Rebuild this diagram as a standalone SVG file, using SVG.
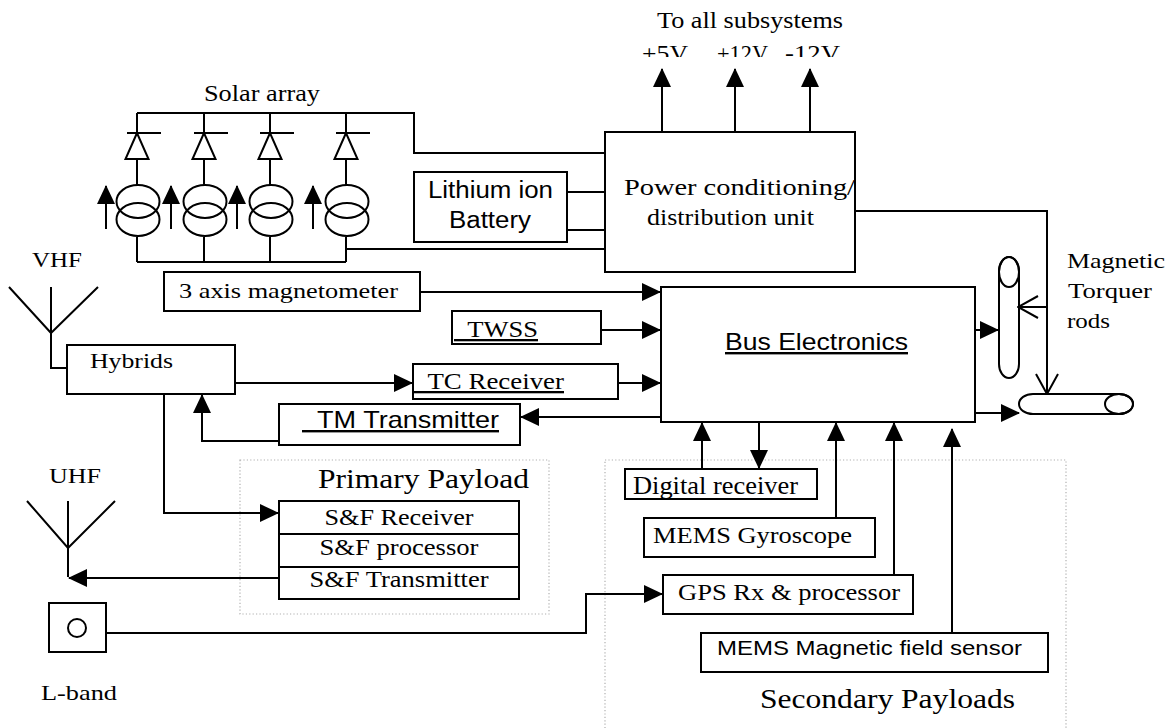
<svg xmlns="http://www.w3.org/2000/svg" width="1176" height="728" viewBox="0 0 1176 728">
<style>
.b{fill:#fff;stroke:#000;stroke-width:2}
.ln{fill:none;stroke:#000;stroke-width:2}
.dot{fill:none;stroke:#b0b0b0;stroke-width:1.2;stroke-dasharray:1.2 2.2}
.t{font-family:"Liberation Serif","Times New Roman",serif;fill:#000}
.s{font-family:"Liberation Sans",Arial,sans-serif;fill:#000}
.u{text-decoration:underline}
</style>
<defs>
<marker id="ar" viewBox="0 0 19 18" refX="18" refY="9" markerWidth="19" markerHeight="18" markerUnits="userSpaceOnUse" orient="auto">
<path d="M0,0 L19,9 L0,18 z" fill="#000"/>
</marker>
<marker id="op" viewBox="0 0 22 24" refX="21" refY="12" markerWidth="22" markerHeight="24" markerUnits="userSpaceOnUse" orient="auto">
<path d="M1,1 L21,12 L1,23" fill="none" stroke="#000" stroke-width="2"/>
</marker>
<clipPath id="vclip"><rect x="600" y="0" width="300" height="57"/></clipPath>
</defs>
<rect width="1176" height="728" fill="#fff"/>

<g id="groups">
<rect id="primary-payload-frame" class="dot" x="240" y="460" width="309" height="154"/>
<rect id="secondary-payload-frame" class="dot" x="605" y="460" width="461" height="280"/>
<text class="t" x="318" y="488" font-size="27" textLength="211" lengthAdjust="spacingAndGlyphs">Primary Payload</text>
<text class="t" x="760" y="708" font-size="28" textLength="255" lengthAdjust="spacingAndGlyphs">Secondary Payloads</text>
</g>

<g id="connectors">
<path class="ln" d="M137,113 H414 V153 H605"/>
<path class="ln" d="M137,262 H346"/>
<path class="ln" d="M346,249 H605"/>
<path class="ln" d="M567,192 H605 M567,230 H605"/>
<path class="ln" d="M662,132 V69" marker-end="url(#ar)"/>
<path class="ln" d="M735,132 V69" marker-end="url(#ar)"/>
<path class="ln" d="M810,132 V69" marker-end="url(#ar)"/>
<path class="ln" d="M855,211 H1047 V394" marker-end="url(#op)"/>
<path class="ln" d="M1047,307 H1018" marker-end="url(#op)"/>
<path class="ln" d="M420,292 H660" marker-end="url(#ar)"/>
<path class="ln" d="M601,330 H660" marker-end="url(#ar)"/>
<path class="ln" d="M235,383 H412" marker-end="url(#ar)"/>
<path class="ln" d="M618,383 H660" marker-end="url(#ar)"/>
<path class="ln" d="M661,417 H521" marker-end="url(#ar)"/>
<path class="ln" d="M279,441 H202 V395" marker-end="url(#ar)"/>
<path class="ln" d="M164,394 V513 H278" marker-end="url(#ar)"/>
<path class="ln" d="M9,287 L51,333 L98,287 M51,287 V368 H67"/>
<path class="ln" d="M27,501 L68,548 L115,501 M68,501 V577"/>
<path class="ln" d="M279,578 H69" marker-end="url(#ar)"/>
<path class="ln" d="M106,633 H586 V594 H662" marker-end="url(#ar)"/>
<path class="ln" d="M975,330 H998" marker-end="url(#ar)"/>
<path fill="none" stroke="#000" stroke-width="3" d="M973,363 V413"/>
<path class="ln" d="M975,413 H1019" marker-end="url(#ar)"/>
<path class="ln" d="M702,469 V423" marker-end="url(#ar)"/>
<path class="ln" d="M759,422 V468" marker-end="url(#ar)"/>
<path class="ln" d="M836,518 V423" marker-end="url(#ar)"/>
<path class="ln" d="M894,575 V423" marker-end="url(#ar)"/>
<path class="ln" d="M952,637 V429" marker-end="url(#ar)"/>
</g>

<g id="solar-array">
<text class="t" x="204" y="101" font-size="23" textLength="116" lengthAdjust="spacingAndGlyphs">Solar array</text>
<g id="cell1">
<path class="ln" d="M137,113 V133 M127,133 H161 M137,159 V185 M137,237 V262"/>
<path class="b" d="M137,133 L125.5,159 L148.5,159 z"/>
<ellipse class="ln" cx="138" cy="201.5" rx="21.5" ry="16.5"/>
<ellipse class="ln" cx="138" cy="219.5" rx="21.5" ry="16.5"/>
<path class="ln" d="M106,229 V186" marker-end="url(#ar)"/>
</g>
<g id="cell2">
<path class="ln" d="M204,113 V133 M194,133 H228 M204,159 V185 M204,237 V262"/>
<path class="b" d="M204,133 L192.5,159 L215.5,159 z"/>
<ellipse class="ln" cx="205" cy="201.5" rx="21.5" ry="16.5"/>
<ellipse class="ln" cx="205" cy="219.5" rx="21.5" ry="16.5"/>
<path class="ln" d="M171,229 V186" marker-end="url(#ar)"/>
</g>
<g id="cell3">
<path class="ln" d="M270,113 V133 M260,133 H294 M270,159 V185 M270,237 V262"/>
<path class="b" d="M270,133 L258.5,159 L281.5,159 z"/>
<ellipse class="ln" cx="271" cy="201.5" rx="21.5" ry="16.5"/>
<ellipse class="ln" cx="271" cy="219.5" rx="21.5" ry="16.5"/>
<path class="ln" d="M237,229 V186" marker-end="url(#ar)"/>
</g>
<g id="cell4">
<path class="ln" d="M346,113 V133 M336,133 H370 M346,159 V185 M346,237 V262"/>
<path class="b" d="M346,133 L334.5,159 L357.5,159 z"/>
<ellipse class="ln" cx="347" cy="201.5" rx="21.5" ry="16.5"/>
<ellipse class="ln" cx="347" cy="219.5" rx="21.5" ry="16.5"/>
<path class="ln" d="M313,229 V186" marker-end="url(#ar)"/>
</g>
</g>

<g id="battery">
<rect class="b" x="414" y="172" width="153" height="70"/>
<text class="s" x="428" y="198" font-size="23" textLength="125" lengthAdjust="spacingAndGlyphs">Lithium ion</text>
<text class="s" x="449" y="228" font-size="23" textLength="82" lengthAdjust="spacingAndGlyphs">Battery</text>
</g>

<g id="power-unit">
<rect class="b" x="605" y="132" width="250" height="140"/>
<text class="t" x="624" y="195" font-size="23" textLength="231" lengthAdjust="spacingAndGlyphs">Power conditioning/</text>
<text class="t" x="647" y="225" font-size="23" textLength="167" lengthAdjust="spacingAndGlyphs">distribution unit</text>
</g>

<g id="subsystems-label">
<text class="t" x="657" y="28" font-size="24" textLength="186" lengthAdjust="spacingAndGlyphs">To all subsystems</text>
<g clip-path="url(#vclip)">
<text class="t" x="642" y="61" font-size="24" textLength="46" lengthAdjust="spacingAndGlyphs">+5V</text>
<text class="t" x="717" y="61" font-size="24" textLength="51" lengthAdjust="spacingAndGlyphs">+12V</text>
<text class="t" x="785" y="61" font-size="24" textLength="55" lengthAdjust="spacingAndGlyphs">-12V</text>
</g>
</g>

<g id="vhf">
<text class="t" x="32" y="267" font-size="22" textLength="50" lengthAdjust="spacingAndGlyphs">VHF</text>
</g>

<g id="magnetometer">
<rect class="b" x="164" y="272" width="256" height="39"/>
<text class="t" x="179" y="298" font-size="22" textLength="219" lengthAdjust="spacingAndGlyphs">3 axis magnetometer</text>
</g>

<g id="twss">
<rect class="b" x="452" y="311" width="149" height="33"/>
<text class="t u" x="454" y="337" font-size="23" textLength="84" lengthAdjust="spacingAndGlyphs">&#160;&#160;TWSS</text>
</g>

<g id="hybrids">
<rect class="b" x="67" y="345" width="168" height="49"/>
<text class="t" x="90" y="368" font-size="22" textLength="83" lengthAdjust="spacingAndGlyphs">Hybrids</text>
</g>

<g id="tc-receiver">
<rect class="b" x="413" y="364" width="205" height="35"/>
<text class="t u" x="414" y="389" font-size="23" textLength="150" lengthAdjust="spacingAndGlyphs">&#160;&#160;TC Receiver</text>
</g>

<g id="tm-transmitter">
<rect class="b" x="279" y="404" width="241" height="41"/>
<text class="s u" x="302" y="428" font-size="24" textLength="197" lengthAdjust="spacingAndGlyphs">&#160;&#160;TM Transmitter</text>
</g>

<g id="bus-electronics">
<rect class="b" x="661" y="287" width="314" height="135"/>
<text class="s u" x="725" y="350" font-size="24" textLength="183" lengthAdjust="spacingAndGlyphs">Bus Electronics</text>
</g>

<g id="torquer-rods">
<rect class="ln" x="999" y="257" width="20" height="121" rx="10" ry="14"/>
<ellipse class="ln" cx="1009" cy="272" rx="10" ry="15"/>
<rect class="ln" x="1019" y="394" width="114" height="20" rx="14" ry="10"/>
<ellipse class="ln" cx="1119" cy="404" rx="14" ry="10"/>
<text class="t" x="1067" y="268" font-size="22" textLength="98" lengthAdjust="spacingAndGlyphs">Magnetic</text>
<text class="t" x="1068" y="298" font-size="22" textLength="84" lengthAdjust="spacingAndGlyphs">Torquer</text>
<text class="t" x="1067" y="328" font-size="22" textLength="43" lengthAdjust="spacingAndGlyphs">rods</text>
</g>

<g id="uhf">
<text class="t" x="49" y="483" font-size="22" textLength="52" lengthAdjust="spacingAndGlyphs">UHF</text>
</g>

<g id="sf-payload">
<rect class="b" x="279" y="501" width="240" height="98"/>
<path class="ln" d="M279,534 H519 M279,567 H519"/>
<text class="t" x="324.5" y="525" font-size="24" textLength="149" lengthAdjust="spacingAndGlyphs">S&amp;F Receiver</text>
<text class="t" x="319.5" y="555" font-size="24" textLength="159" lengthAdjust="spacingAndGlyphs">S&amp;F processor</text>
<text class="t" x="309.5" y="587" font-size="24" textLength="179" lengthAdjust="spacingAndGlyphs">S&amp;F Transmitter</text>
</g>

<g id="l-band">
<rect class="b" x="49" y="603" width="57" height="49"/>
<circle class="ln" cx="77" cy="628" r="9"/>
<text class="t" x="41" y="700" font-size="22" textLength="76" lengthAdjust="spacingAndGlyphs">L-band</text>
</g>

<g id="digital-receiver">
<rect class="b" x="625" y="469" width="192" height="30"/>
<text class="t" x="633" y="494" font-size="26" textLength="165" lengthAdjust="spacingAndGlyphs">Digital receiver</text>
</g>

<g id="mems-gyroscope">
<rect class="b" x="644" y="518" width="231" height="39"/>
<text class="t" x="653" y="543" font-size="24" textLength="199" lengthAdjust="spacingAndGlyphs">MEMS Gyroscope</text>
</g>

<g id="gps">
<rect class="b" x="663" y="575" width="250" height="39"/>
<text class="t" x="678" y="600" font-size="24" textLength="222" lengthAdjust="spacingAndGlyphs">GPS Rx &amp; processor</text>
</g>

<g id="mems-magnetic">
<rect class="b" x="701" y="633" width="347" height="39"/>
<text class="s" x="717" y="655" font-size="21" textLength="305" lengthAdjust="spacingAndGlyphs">MEMS Magnetic field sensor</text>
</g>
</svg>
